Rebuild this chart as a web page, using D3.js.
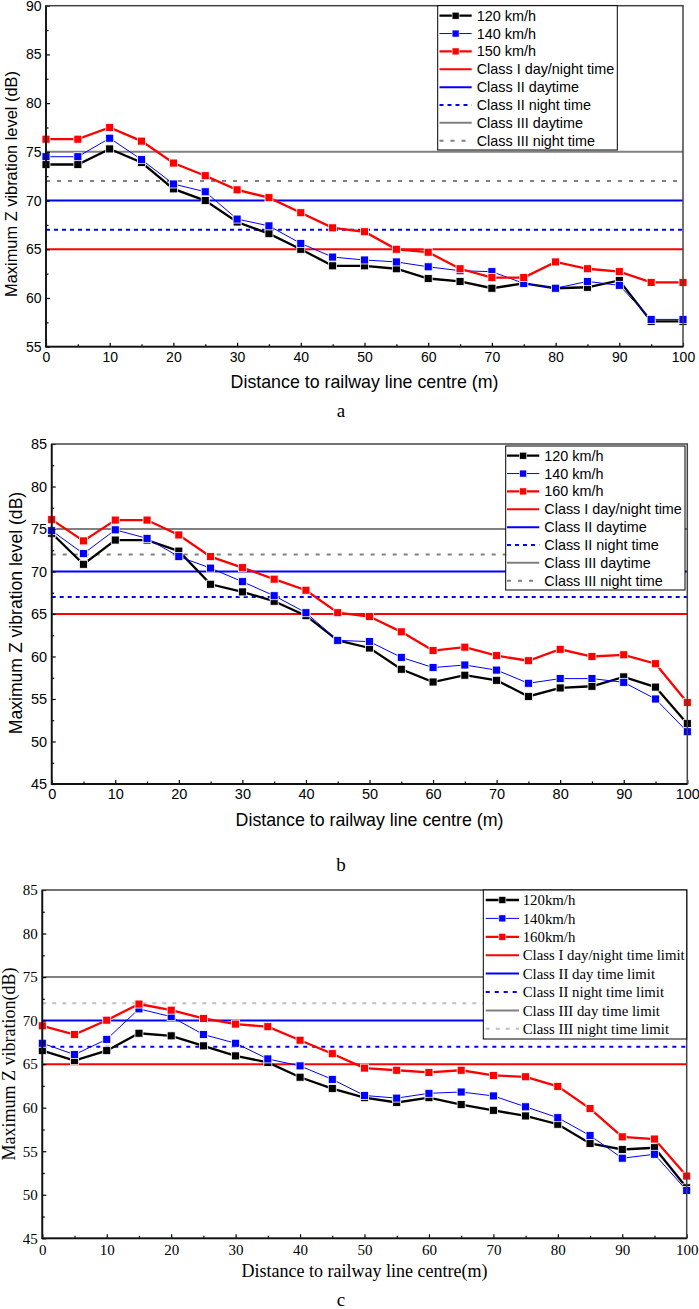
<!DOCTYPE html>
<html>
  <head>
    <meta charset="UTF-8">
    <title>Maximum Z vibration level</title>
    <style>
      body {margin: 0; background-color: #ffffff;}
      #chart svg {display: block;}
    </style>
  </head>
  <body>
    <div id="chart"></div>
    <script src="https://d3js.org/d3.v7.min.js"></script>
    <script>
  const distance = [0, 5, 10, 15, 20, 25, 30, 35, 40, 45, 50, 55, 60, 65, 70, 75, 80, 85, 90, 95, 100];

  // panel a
  const speedLabelsA = ["120 km/h", "140 km/h", "150 km/h"];
  const levelA120 = [73.7, 73.7, 75.3, 73.9, 71.2, 70.0, 67.8, 66.6, 65.0, 63.3, 63.3, 63.0, 62.0, 61.7, 61.0, 61.5, 61.0, 61.1, 61.8, 57.6, 57.6];
  const levelA140 = [74.5, 74.5, 76.4, 74.2, 71.7, 70.9, 68.1, 67.4, 65.6, 64.2, 63.9, 63.7, 63.2, 62.8, 62.7, 61.5, 61.0, 61.7, 61.3, 57.8, 57.8];
  const levelA150 = [76.3, 76.3, 77.5, 76.1, 73.85, 72.55, 71.1, 70.3, 68.75, 67.2, 66.8, 65.0, 64.7, 63.0, 62.1, 62.1, 63.7, 63.0, 62.7, 61.6, 61.6];

  // panel b
  const speedLabelsB = ["120 km/h", "140 km/h", "160 km/h"];
  const levelB120 = [74.5, 70.85, 73.7, 73.7, 72.4, 68.5, 67.6, 66.5, 64.8, 61.9, 61.0, 58.5, 57.0, 57.8, 57.2, 55.3, 56.3, 56.5, 57.6, 56.4, 52.1];
  const levelB140 = [74.8, 72.1, 74.9, 73.9, 71.75, 70.4, 68.8, 67.15, 65.15, 61.9, 61.75, 59.9, 58.7, 59.0, 58.4, 56.85, 57.4, 57.4, 56.96, 55.0, 51.15];
  const levelB160 = [76.1, 73.6, 76.05, 76.05, 74.3, 71.75, 70.45, 69.1, 67.8, 65.15, 64.7, 62.9, 60.7, 61.1, 60.1, 59.5, 60.85, 60.0, 60.2, 59.15, 54.6];

  // panel c
  const speedLabelsC = ["120km/h", "140km/h", "160km/h"];
  const levelC120 = [66.55, 65.4, 66.55, 68.55, 68.25, 67.1, 65.95, 65.2, 63.5, 62.2, 61.15, 60.6, 61.15, 60.35, 59.7, 59.05, 58.1, 55.9, 55.2, 55.4, 50.8];
  const levelC140 = [67.4, 66.1, 67.85, 71.35, 70.45, 68.4, 67.4, 65.6, 64.8, 63.25, 61.4, 61.1, 61.65, 61.8, 61.35, 60.1, 58.85, 56.8, 54.2, 54.65, 50.5];
  const levelC160 = [69.4, 68.4, 70.05, 71.9, 71.2, 70.25, 69.6, 69.3, 67.75, 66.2, 64.55, 64.3, 64.05, 64.3, 63.7, 63.55, 62.45, 59.9, 56.65, 56.4, 52.15];

  // limits
  const limitValues = [65, 70, 67, 75, 72];
  const limitLabelsAB = ["Class I day/night time", "Class II daytime", "Class II night time", "Class III daytime", "Class III night time"];
  const limitLabelsC = ["Class I day/night time limit", "Class II day time limit", "Class II night time limit", "Class III day time limit", "Class III night time limit"];

  const xTicks = [0, 10, 20, 30, 40, 50, 60, 70, 80, 90, 100];
  const xMinorTicks = [5, 15, 25, 35, 45, 55, 65, 75, 85, 95];
  const yTicksA = [55, 60, 65, 70, 75, 80, 85, 90];
  const yTicksBC = [45, 50, 55, 60, 65, 70, 75, 80, 85];

  const xTitleAB = "Distance to railway line centre (m)";
  const xTitleC = "Distance to railway line centre(m)";
  const yTitleAB = "Maximum Z vibration level (dB)";
  const yTitleC = "Maximum Z vibration(dB)";

  const width = 699, height = 1309;
  const sans = "'Liberation Sans', Arial, sans-serif";
  const serif = "'Liberation Serif', 'Times New Roman', serif";

  const seriesStyle = [
    {color: "#000000", width: 2.3},
    {color: "#0000ff", width: 1},
    {color: "#ff0000", width: 2.3}
  ];
  const limitStyleAB = [
    {color: "#ff0000", dash: null},
    {color: "#0000ff", dash: null},
    {color: "#0000ff", dash: "4,4"},
    {color: "#808080", dash: null},
    {color: "#808080", dash: "4,7"}
  ];
  const limitStyleC = [
    {color: "#ff0000", dash: null},
    {color: "#0000ff", dash: null},
    {color: "#0000ff", dash: "4,5"},
    {color: "#808080", dash: null},
    {color: "#c0c0c0", dash: "4,6"}
  ];

  const panels = [
    {left: 46, right: 683, top: 5.7, bottom: 346.7, yDomain: [55, 90], yTicks: yTicksA, yMinor: 2.5,
     font: sans, tickFont: 14, series: [levelA120, levelA140, levelA150], speedLabels: speedLabelsA,
     limitLabels: limitLabelsAB, limitStyle: limitStyleAB,
     xTitle: xTitleAB, xTitleY: 388, xTitleSize: 17.8,
     yTitle: yTitleAB, yTitleX: 16.5, yTitleY: 184, yTitleSize: 16.4,
     letter: "a", letterY: 416.7,
     legend: {x0: 437.7, x1: 617.3, y0: 5.7, y1: 150, s0: 439.5, s1: 471.7, tx: 476.7, row0: 15.7, step: 17.86, size: 14.4}},
    {left: 51.7, right: 687.3, top: 444, bottom: 784, yDomain: [45, 85], yTicks: yTicksBC, yMinor: 2.5,
     font: sans, tickFont: 14.5, series: [levelB120, levelB140, levelB160], speedLabels: speedLabelsB,
     limitLabels: limitLabelsAB, limitStyle: limitStyleAB,
     xTitle: xTitleAB, xTitleY: 826, xTitleSize: 17.8,
     yTitle: yTitleAB, yTitleX: 21.5, yTitleY: 613, yTitleSize: 17.6,
     letter: "b", letterY: 871,
     legend: {x0: 505.7, x1: 685, y0: 446, y1: 590, s0: 507, s1: 539.3, tx: 544.3, row0: 455.7, step: 17.86, size: 14.4}},
    {left: 42.3, right: 686.7, top: 890, bottom: 1238.3, yDomain: [45, 85], yTicks: yTicksBC, yMinor: 2.5,
     font: serif, tickFont: 15, series: [levelC120, levelC140, levelC160], speedLabels: speedLabelsC,
     limitLabels: limitLabelsC, limitStyle: limitStyleC,
     xTitle: xTitleC, xTitleY: 1276.7, xTitleSize: 18,
     yTitle: yTitleC, yTitleX: 14.5, yTitleY: 1064, yTitleSize: 18,
     letter: "c", letterY: 1306,
     legend: {x0: 483.3, x1: 686.7, y0: 890, y1: 1039, s0: 485.7, s1: 519, tx: 522.7, row0: 900, step: 18.4, size: 14.8}}
  ];

  const svg = d3.select("#chart").append("svg")
    .attr("width", width).attr("height", height)
    .attr("viewBox", `0 0 ${width} ${height}`);

  svg.append("rect").attr("width", width).attr("height", height).attr("fill", "#ffffff");

  function drawPanel(p) {
    const g = svg.append("g");
    const x = d3.scaleLinear().domain([0, 100]).range([p.left, p.right]);
    const y = d3.scaleLinear().domain(p.yDomain).range([p.bottom, p.top]);

    // limit lines
    limitValues.forEach((v, i) => {
      g.append("line")
        .attr("x1", p.left).attr("x2", p.right)
        .attr("y1", y(v)).attr("y2", y(v))
        .attr("stroke", p.limitStyle[i].color)
        .attr("stroke-width", 2)
        .attr("stroke-dasharray", p.limitStyle[i].dash);
    });

    // series
    const line = d3.line().x((d, i) => x(distance[i])).y(d => y(d));
    p.series.forEach((vals, k) => {
      g.append("path").datum(vals)
        .attr("d", line)
        .attr("fill", "none")
        .attr("stroke", seriesStyle[k].color)
        .attr("stroke-width", seriesStyle[k].width);
      g.selectAll(null).data(vals).join("rect")
        .attr("x", (d, i) => x(distance[i]) - 4)
        .attr("y", d => y(d) - 4)
        .attr("width", 8).attr("height", 8)
        .attr("fill", seriesStyle[k].color)
        .attr("stroke", "#ffffff")
        .attr("stroke-width", 0.8);
    });

    // axes
    const xAxis = g.append("g")
      .attr("transform", `translate(0,${p.bottom})`)
      .call(d3.axisBottom(x).tickValues(xTicks).tickSizeInner(-4).tickSizeOuter(0).tickPadding(p.font === serif ? 6 : 5));
    const xMinor = g.append("g")
      .attr("transform", `translate(0,${p.bottom})`)
      .call(d3.axisBottom(x).tickValues(xMinorTicks).tickSizeInner(-2.5).tickSizeOuter(0).tickFormat(""));
    const yMinorVals = d3.range(p.yDomain[0] + p.yMinor, p.yDomain[1], 5);
    const yAxis = g.append("g")
      .attr("transform", `translate(${p.left},0)`)
      .call(d3.axisLeft(y).tickValues(p.yTicks).tickSizeInner(-4).tickSizeOuter(0).tickPadding(4.5));
    const yMinor = g.append("g")
      .attr("transform", `translate(${p.left},0)`)
      .call(d3.axisLeft(y).tickValues(yMinorVals).tickSizeInner(-2.5).tickSizeOuter(0).tickFormat(""));
    [xAxis, xMinor, yAxis, yMinor].forEach(a => {
      a.select(".domain").remove();
      a.selectAll("line").attr("stroke", "#000").attr("stroke-width", 1.2);
      a.selectAll("text").attr("font-family", p.font).attr("font-size", p.tickFont).attr("fill", "#000");
    });

    // frame
    g.append("rect")
      .attr("x", p.left).attr("y", p.top)
      .attr("width", p.right - p.left).attr("height", p.bottom - p.top)
      .attr("fill", "none").attr("stroke", "#444").attr("stroke-width", 1.5);
    g.append("path")
      .attr("d", `M${p.left},${p.top}V${p.bottom}H${p.right}`)
      .attr("fill", "none").attr("stroke", "#111").attr("stroke-width", 1.8);

    // legend
    const L = p.legend;
    const lg = g.append("g");
    lg.append("rect")
      .attr("x", L.x0).attr("y", L.y0)
      .attr("width", L.x1 - L.x0).attr("height", L.y1 - L.y0)
      .attr("fill", "#ffffff").attr("stroke", "#000").attr("stroke-width", 1);
    const items = p.speedLabels.map((t, k) => ({text: t, color: seriesStyle[k].color, width: seriesStyle[k].width, dash: null, marker: true}))
      .concat(p.limitLabels.map((t, i) => ({text: t, color: p.limitStyle[i].color, width: 2, dash: p.limitStyle[i].dash, marker: false})));
    items.forEach((it, i) => {
      const cy = L.row0 + i * L.step;
      lg.append("line")
        .attr("x1", L.s0).attr("x2", L.s1).attr("y1", cy).attr("y2", cy)
        .attr("stroke", it.color).attr("stroke-width", it.width)
        .attr("stroke-dasharray", it.dash);
      if (it.marker) {
        lg.append("rect")
          .attr("x", (L.s0 + L.s1) / 2 - 3.5).attr("y", cy - 3.5)
          .attr("width", 7).attr("height", 7)
          .attr("fill", it.color).attr("stroke", "#fff").attr("stroke-width", 0.6);
      }
      lg.append("text")
        .attr("x", L.tx).attr("y", cy).attr("dy", "0.35em")
        .attr("font-family", p.font).attr("font-size", L.size)
        .text(it.text);
    });

    // titles
    g.append("text")
      .attr("x", (p.left + p.right) / 2).attr("y", p.xTitleY)
      .attr("text-anchor", "middle")
      .attr("font-family", p.font).attr("font-size", p.xTitleSize)
      .text(p.xTitle);
    g.append("text")
      .attr("transform", `translate(${p.yTitleX},${p.yTitleY}) rotate(-90)`)
      .attr("text-anchor", "middle")
      .attr("font-family", p.font).attr("font-size", p.yTitleSize)
      .text(p.yTitle);
    g.append("text")
      .attr("x", 341).attr("y", p.letterY)
      .attr("text-anchor", "middle")
      .attr("font-family", serif).attr("font-size", 19)
      .text(p.letter);
  }

  panels.forEach(drawPanel);
    </script>
  </body>
</html>
